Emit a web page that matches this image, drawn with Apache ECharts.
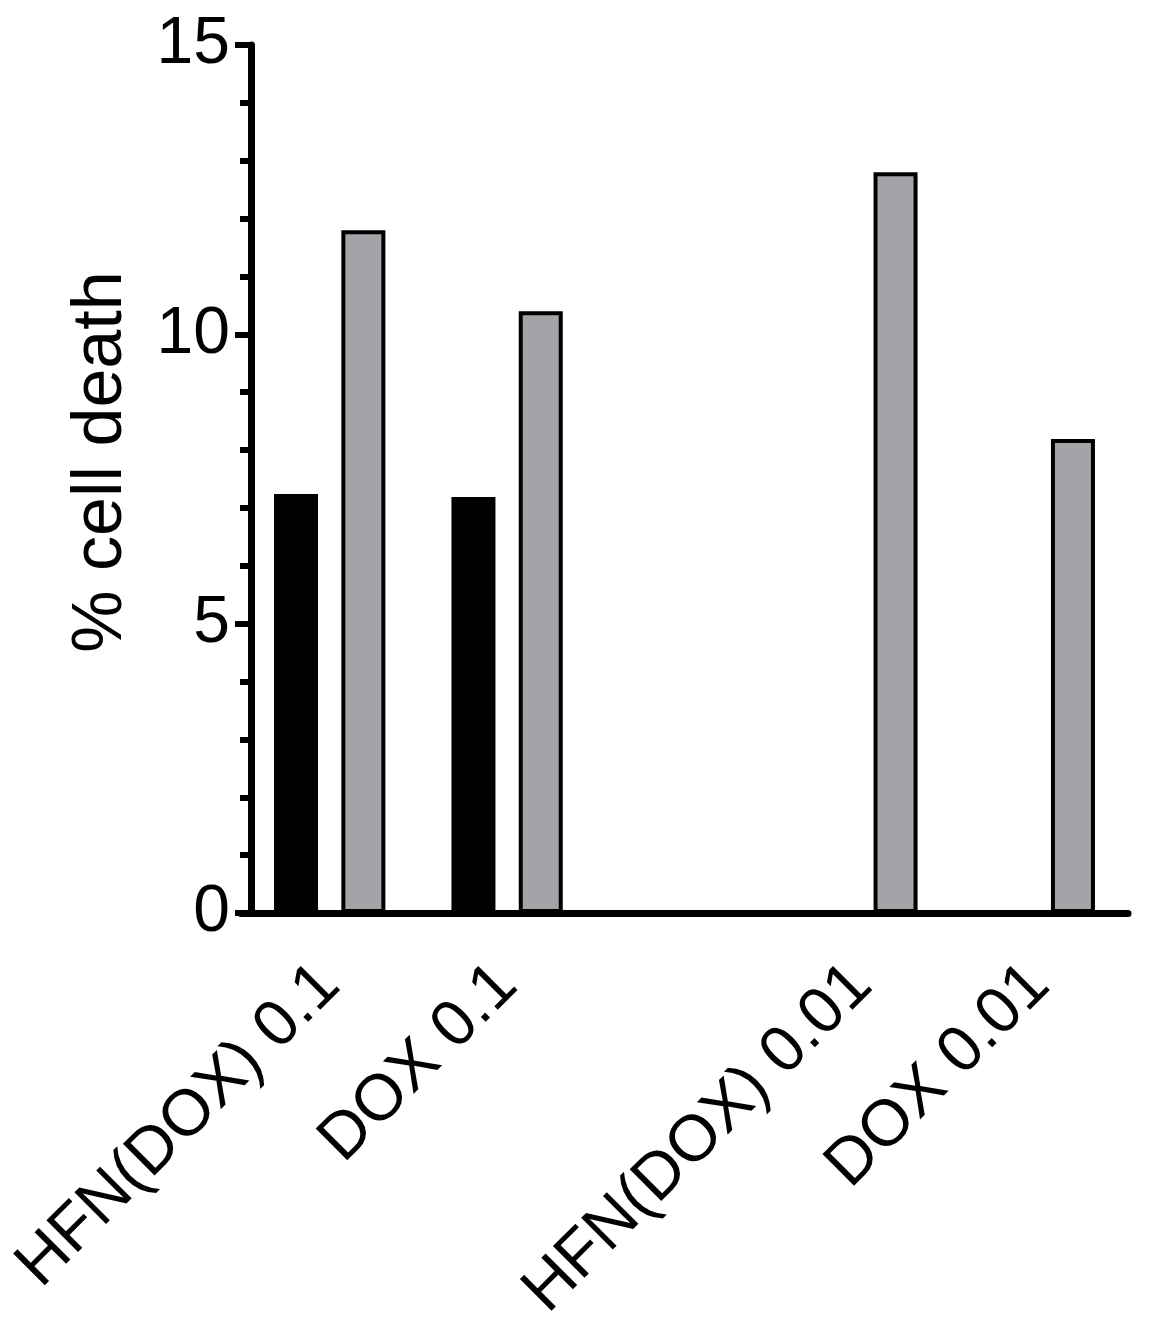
<!DOCTYPE html>
<html>
<head>
<meta charset="utf-8">
<script src="https://cdn.jsdelivr.net/npm/echarts@6/dist/echarts.min.js"></script>
<style>
  html, body { margin: 0; padding: 0; background: #fff; }
  #chart { width: 1170px; height: 1336px; }
</style>
</head>
<body>
<div id="chart"></div>
<script>
// groups along the x axis, the empty one keeps the gap in the middle
const categories = ['HFN(DOX) 0.1', 'DOX 0.1', '', 'HFN(DOX) 0.01', 'DOX 0.01']
const blackValues = [7.24, 7.19, '-', 0, 0]
const grayValues = [11.8, 10.4, '-', 12.8, 8.19]
const yTicks = [0, 5, 10, 15]

const font = '"Liberation Sans", Arial, sans-serif'

const chart = echarts.init(document.getElementById('chart'))

chart.setOption({
  animation: false,
  backgroundColor: '#fff',
  textStyle: { fontFamily: font, color: '#000' },
  grid: { left: 241, right: 42, top: 45, bottom: 423, containLabel: false, outerBoundsMode: 'none' },
  xAxis: {
    type: 'category',
    data: categories,
    axisLine: { lineStyle: { color: '#000', width: 7 } },
    axisTick: { show: false },
    axisLabel: {
      interval: 0,
      rotate: 45,
      margin: 62,
      fontSize: 65,
      color: '#000',
      fontFamily: font,
    },
  },
  yAxis: {
    type: 'value',
    min: yTicks[0],
    max: yTicks[yTicks.length - 1],
    interval: yTicks[1] - yTicks[0],
    offset: -10,
    axisLine: { show: true, lineStyle: { color: '#000', width: 7 } },
    axisTick: { show: true, length: 16, lineStyle: { color: '#000', width: 6 } },
    minorTick: { show: true, splitNumber: 5, length: 11, lineStyle: { color: '#000', width: 6 } },
    splitLine: { show: false },
    axisLabel: { fontSize: 66, margin: 21, color: '#000', fontFamily: font },
    name: '% cell death',
    nameLocation: 'middle',
    nameGap: 114,
    nameTextStyle: { fontSize: 70, color: '#000', fontFamily: font, padding: [0, 0, 0, 34] },
  },
  series: [
    {
      name: 'black',
      type: 'bar',
      data: blackValues,
      barWidth: 44,
      barGap: '53%',
      itemStyle: { color: '#000', borderColor: '#000', borderWidth: 4 },
    },
    {
      name: 'gray',
      type: 'bar',
      data: grayValues,
      barWidth: 44,
      barGap: '53%',
      itemStyle: { color: '#a4a4a8', borderColor: '#000', borderWidth: 4 },
    },
  ],
})
</script>
</body>
</html>
